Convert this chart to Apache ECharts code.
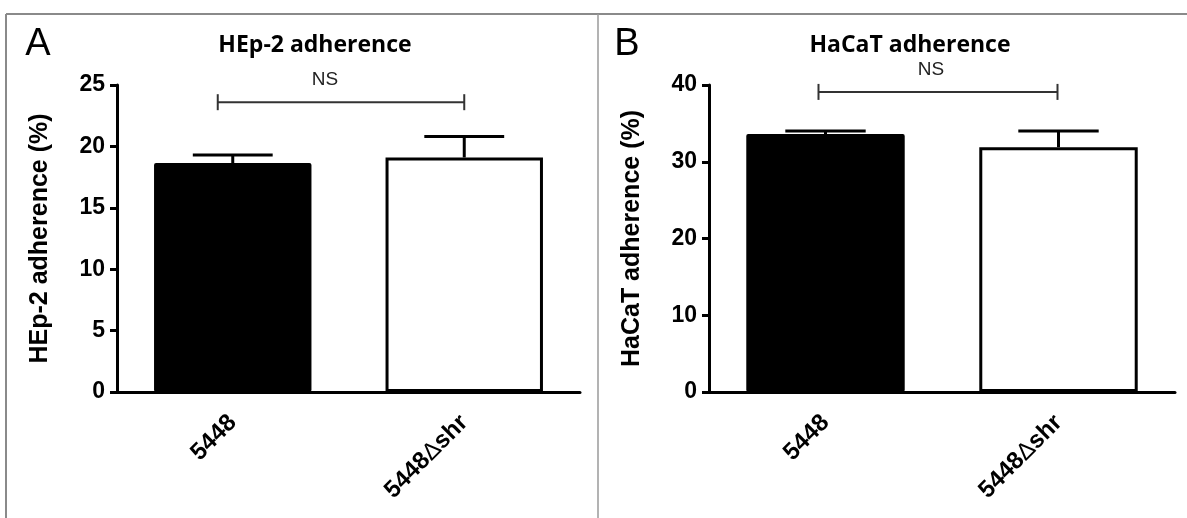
<!DOCTYPE html>
<html>
<head>
<meta charset="utf-8">
<script src="https://cdn.jsdelivr.net/npm/echarts@6/dist/echarts.min.js"></script>
<style>
  html, body { margin: 0; padding: 0; background: #fff; }
  #main { width: 1187px; height: 518px; }
</style>
</head>
<body>
<div id="main"></div>
<script>
// 数据
var categories = ['5448', '5448Δshr'];
var hep2Mean = [18.65, 19.1];
var hep2Err = [0.65, 1.7];
var hacatMean = [33.6, 31.9];
var hacatErr = [0.4, 2.1];
var hep2Axis = { min: 0, max: 25, interval: 5 };
var hacatAxis = { min: 0, max: 40, interval: 10 };
// NS 括号所在的高度（数据单位）
var nsLevel = [23.6, 39.1];

var FONT = '"Liberation Sans", Arial, sans-serif';

var myChart = echarts.init(document.getElementById('main'));

function barData(means) {
    return means.map(function (v, i) {
        if (i === 0) {
            return { value: v, itemStyle: { color: '#000', borderRadius: 2 } };
        }
        return { value: v, itemStyle: { color: '#fff', borderColor: '#000', borderWidth: 3 } };
    });
}

function errRender(params, api) {
    var i = api.value(0);
    var base = api.coord([i, api.value(1)]);
    var top = api.coord([i, api.value(1) + api.value(2)]);
    var w = api.size([1, 0])[0] * 0.345;
    var st = { stroke: '#000', lineWidth: 3 };
    return {
        type: 'group',
        children: [
            { type: 'line', shape: { x1: base[0], y1: base[1], x2: top[0], y2: top[1] }, style: st },
            { type: 'line', shape: { x1: top[0] - w / 2, y1: top[1], x2: top[0] + w / 2, y2: top[1] }, style: st }
        ]
    };
}

function xAxisOpt(gi) {
    return {
        type: 'category',
        gridIndex: gi,
        data: categories,
        axisLine: { lineStyle: { color: '#000', width: 3 } },
        axisTick: { alignWithLabel: true, length: 7, lineStyle: { color: '#000', width: 3 } },
        axisLabel: {
            rotate: 45,
            margin: 27,
            formatter: function (v) {
                var p = v.split('Δ');
                if (p.length > 1) return '{b|' + p[0] + '}{d|Δ}{b|' + p[1] + '}';
                return '{b|' + v + '}';
            },
            rich: {
                b: { fontFamily: FONT, fontWeight: 'bold', fontSize: 24, color: '#000' },
                d: { fontFamily: FONT, fontWeight: 'normal', fontSize: 24, color: '#000' }
            }
        }
    };
}

function yAxisOpt(gi, ax, name) {
    return {
        type: 'value',
        gridIndex: gi,
        min: ax.min,
        max: ax.max,
        interval: ax.interval,
        name: name,
        nameLocation: 'middle',
        nameGap: 64,
        nameTextStyle: { fontFamily: FONT, fontWeight: 'bold', fontSize: 25, color: '#000' },
        splitLine: { show: false },
        axisLine: { show: true, lineStyle: { color: '#000', width: 3 } },
        axisTick: { show: true, length: 7, lineStyle: { color: '#000', width: 3 } },
        axisLabel: { margin: 12, fontFamily: FONT, fontWeight: 'bold', fontSize: 23, color: '#000' }
    };
}

var option = {
    animation: false,
    backgroundColor: '#fff',
    grid: [
        { left: 117, top: 85, width: 463, height: 307, outerBoundsMode: 'none' },
        { left: 709, top: 85, width: 466, height: 307, outerBoundsMode: 'none' }
    ],
    xAxis: [xAxisOpt(0), xAxisOpt(1)],
    yAxis: [
        yAxisOpt(0, hep2Axis, 'HEp-2 adherence (%)'),
        yAxisOpt(1, hacatAxis, 'HaCaT adherence (%)')
    ],
    series: [
        { type: 'bar', xAxisIndex: 0, yAxisIndex: 0, barWidth: '68%', data: barData(hep2Mean) },
        { type: 'bar', xAxisIndex: 1, yAxisIndex: 1, barWidth: '68%', data: barData(hacatMean) },
        {
            type: 'custom', xAxisIndex: 0, yAxisIndex: 0, z: 5,
            renderItem: errRender,
            data: hep2Mean.map(function (m, i) { return [i, m, hep2Err[i]]; })
        },
        {
            type: 'custom', xAxisIndex: 1, yAxisIndex: 1, z: 5,
            renderItem: errRender,
            data: hacatMean.map(function (m, i) { return [i, m, hacatErr[i]]; })
        }
    ]
};
myChart.setOption(option);

// 面板边框、标题、NS 括号
var g = [];
var border = { stroke: '#8a8a8a', lineWidth: 2 };
g.push({ type: 'line', shape: { x1: 6, y1: 14, x2: 1187, y2: 14 }, style: border });
g.push({ type: 'line', shape: { x1: 6, y1: 14, x2: 6, y2: 518 }, style: border });
g.push({ type: 'line', shape: { x1: 598, y1: 14, x2: 598, y2: 518 }, style: { stroke: '#9a9a9a', lineWidth: 1.5 } });

g.push({ type: 'text', x: 38, y: 45, style: { text: 'A', font: '38px ' + FONT, fill: '#000', textAlign: 'center', textVerticalAlign: 'middle' } });
g.push({ type: 'text', x: 627, y: 45, style: { text: 'B', font: '38px ' + FONT, fill: '#000', textAlign: 'center', textVerticalAlign: 'middle' } });
g.push({ type: 'text', x: 315, y: 45, style: { text: 'HEp-2 adherence', font: 'bold 23px "Open Sans", sans-serif', fill: '#000', textAlign: 'center', textVerticalAlign: 'middle' } });
g.push({ type: 'text', x: 910, y: 45, style: { text: 'HaCaT adherence', font: 'bold 23px "Open Sans", sans-serif', fill: '#000', textAlign: 'center', textVerticalAlign: 'middle' } });

[[0, -15, 0, -16], [1, -7, -1, -7]].forEach(function (c) {
    var gi = c[0];
    var p0 = myChart.convertToPixel({ gridIndex: gi }, [0, nsLevel[gi]]);
    var p1 = myChart.convertToPixel({ gridIndex: gi }, [1, nsLevel[gi]]);
    var x1 = p0[0] + c[1], x2 = p1[0] + c[2], y = p0[1];
    var st = { stroke: '#333', lineWidth: 2 };
    g.push({ type: 'line', shape: { x1: x1, y1: y, x2: x2, y2: y }, style: st });
    g.push({ type: 'line', shape: { x1: x1, y1: y - 8, x2: x1, y2: y + 8 }, style: st });
    g.push({ type: 'line', shape: { x1: x2, y1: y - 8, x2: x2, y2: y + 8 }, style: st });
    g.push({ type: 'text', x: (x1 + x2) / 2 + c[3], y: y - 22, style: { text: 'NS', font: '19px ' + FONT, fill: '#222', textAlign: 'center', textVerticalAlign: 'middle' } });
});

myChart.setOption({ graphic: g });
</script>
</body>
</html>
